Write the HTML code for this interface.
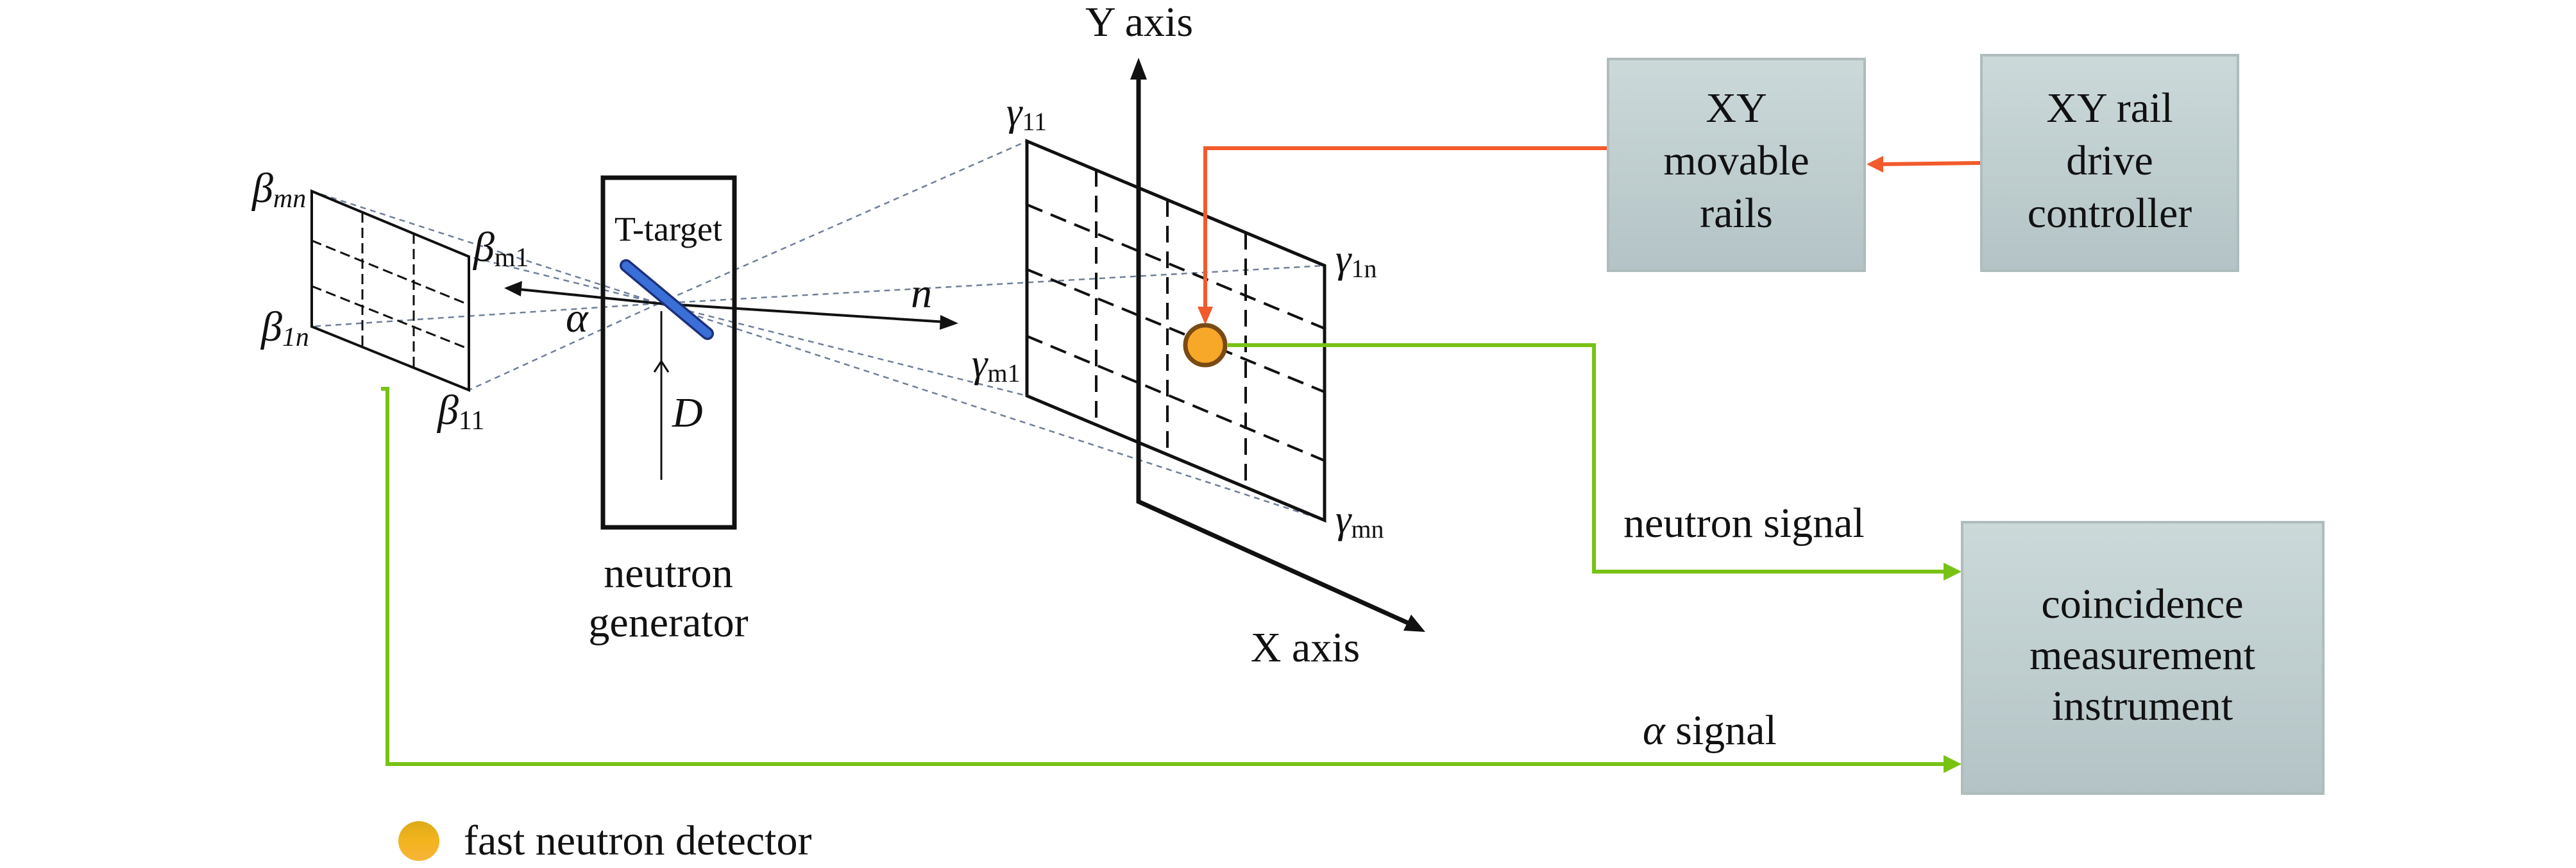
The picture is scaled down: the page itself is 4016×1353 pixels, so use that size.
<!DOCTYPE html>
<html><head><meta charset="utf-8"><style>
html,body{margin:0;padding:0;background:#fff;}
svg{display:block;}
text{font-family:"Liberation Serif",serif;fill:#111;}
</style></head><body>
<svg width="4016" height="1353" viewBox="0 0 4016 1353" xmlns="http://www.w3.org/2000/svg">
<defs>
<linearGradient id="bx" x1="0" y1="0" x2="0" y2="1">
<stop offset="0" stop-color="#cbd9d9"/><stop offset="1" stop-color="#b4c3c5"/>
</linearGradient>
<linearGradient id="leg" x1="0" y1="0" x2="0" y2="1">
<stop offset="0" stop-color="#dcaa18"/><stop offset="0.5" stop-color="#f4b41e"/><stop offset="1" stop-color="#f6b43a"/>
</linearGradient>
</defs>

<!-- dotted projection lines -->
<g stroke="#6f7f9a" stroke-width="2.5" stroke-dasharray="9,7" fill="none">
<line x1="1027" y1="473" x2="486" y2="298"/>
<line x1="1027" y1="473" x2="731" y2="400"/>
<line x1="1027" y1="473" x2="486" y2="509"/>
<line x1="1027" y1="473" x2="731" y2="608"/>
<line x1="1027" y1="473" x2="1601" y2="220"/>
<line x1="1027" y1="473" x2="2065" y2="414"/>
<line x1="1027" y1="473" x2="1601" y2="617"/>
<line x1="1027" y1="473" x2="2065" y2="811"/>
</g>

<!-- beta plane -->
<g stroke="#111" fill="none">
<polygon points="486,298 731,400 731,608 486,509" stroke-width="4"/>
<g stroke-width="3" stroke-dasharray="16,8">
<line x1="565" y1="331" x2="565" y2="541"/>
<line x1="645" y1="364" x2="645" y2="574"/>
<line x1="486" y1="375" x2="731" y2="475"/>
<line x1="486" y1="446" x2="731" y2="544"/>
</g>
</g>

<!-- gamma plane -->
<g stroke="#111" fill="none">
<polygon points="1601,220 2065,414 2065,811 1601,617" stroke-width="5"/>
<g stroke-width="4" stroke-dasharray="26,14">
<line x1="1709" y1="265" x2="1709" y2="662"/>
<line x1="1820" y1="312" x2="1820" y2="709"/>
<line x1="1942" y1="363" x2="1942" y2="760"/>
<line x1="1601" y1="319" x2="2065" y2="512"/>
<line x1="1601" y1="420" x2="2065" y2="611"/>
<line x1="1601" y1="524" x2="2065" y2="718"/>
</g>
</g>

<!-- axes -->
<g stroke="#111" stroke-width="7" fill="none">
<line x1="1775" y1="120" x2="1775" y2="784"/>
<line x1="1773" y1="781" x2="2195" y2="971"/>
</g>
<polygon points="1775,90 1762,124 1788,124" fill="#111"/>
<polygon points="2222,985 2188,983 2200,958" fill="#111"/>
<text x="1776" y="56" font-size="66" text-anchor="middle">Y axis</text>
<text x="2035" y="1031" font-size="66" text-anchor="middle">X axis</text>

<!-- neutron generator -->
<rect x="940" y="277" width="205" height="545" fill="none" stroke="#111" stroke-width="7"/>
<text x="1042" y="375" font-size="54" text-anchor="middle">T-target</text>
<line x1="1027" y1="473" x2="800" y2="450" stroke="#111" stroke-width="4"/>
<polygon points="786,449 814,438 812,462" fill="#111"/>
<line x1="1027" y1="473" x2="1475" y2="502" stroke="#111" stroke-width="4"/>
<polygon points="1494,504 1466,491 1465,514" fill="#111"/>
<line x1="976" y1="414" x2="1103" y2="520" stroke="#1c2f7a" stroke-width="20" stroke-linecap="round"/>
<line x1="976" y1="414" x2="1103" y2="520" stroke="#3a6fd8" stroke-width="13" stroke-linecap="round"/>
<line x1="1031" y1="485" x2="1031" y2="748" stroke="#111" stroke-width="3"/>
<polyline points="1020,580 1031,563 1042,580" fill="none" stroke="#111" stroke-width="3"/>
<text x="882" y="517" font-size="66" font-style="italic">α</text>
<text x="1048" y="665" font-size="66" font-style="italic">D</text>
<text x="1420" y="479" font-size="66" font-style="italic">n</text>
<text x="1042" y="915" font-size="66" text-anchor="middle">neutron</text>
<text x="1042" y="992" font-size="66" text-anchor="middle">generator</text>

<!-- beta labels -->
<text x="393" y="315" font-size="66" font-style="italic">β<tspan font-size="42" dy="8">mn</tspan></text>
<text x="738" y="407" font-size="66" font-style="italic">β<tspan font-size="42" font-style="normal" dy="8">m1</tspan></text>
<text x="407" y="531" font-size="66" font-style="italic">β<tspan font-size="42" dy="8">1</tspan><tspan font-size="42">n</tspan></text>
<text x="682" y="661" font-size="66" font-style="italic">β<tspan font-size="42" font-style="normal" dy="8">11</tspan></text>

<!-- gamma labels -->
<text x="1569" y="195" font-size="62" font-style="italic">γ<tspan font-size="40" font-style="normal" dy="8">11</tspan></text>
<text x="2082" y="424" font-size="62" font-style="italic">γ<tspan font-size="40" font-style="normal" dy="8">1n</tspan></text>
<text x="1515" y="587" font-size="62" font-style="italic">γ<tspan font-size="40" font-style="normal" dy="8">m1</tspan></text>
<text x="2082" y="830" font-size="62" font-style="italic">γ<tspan font-size="40" font-style="normal" dy="8">mn</tspan></text>

<!-- orange connectors -->
<g stroke="#f25a2c" stroke-width="6" fill="none">
<polyline points="2506,231 1879,231 1879,484"/>
<line x1="3088" y1="254" x2="2930" y2="256"/>
</g>
<polygon points="1879,506 1867,478 1891,478" fill="#f25a2c"/>
<polygon points="2910,256 2936,243 2936,269" fill="#f25a2c"/>

<!-- green connectors -->
<g stroke="#78c214" stroke-width="6" fill="none">
<polyline points="1914,538 2485,538 2485,891 3035,891"/>
<polyline points="594,606 604,606 604,1191 3035,1191"/>
</g>
<polygon points="3058,891 3030,877 3030,905" fill="#78c214"/>
<polygon points="3058,1191 3030,1177 3030,1205" fill="#78c214"/>

<!-- detector -->
<circle cx="1879" cy="538" r="31" fill="#f8a828" stroke="#7a4a14" stroke-width="7"/>

<text x="2531" y="837" font-size="66">neutron signal</text>
<text x="2561" y="1160" font-size="66"><tspan font-style="italic">α</tspan> signal</text>

<!-- boxes -->
<rect x="2507" y="92" width="400" height="330" fill="url(#bx)" stroke="#aebcbc" stroke-width="4"/>
<text x="2707" y="190" font-size="66" text-anchor="middle">XY</text>
<text x="2707" y="272" font-size="66" text-anchor="middle">movable</text>
<text x="2707" y="354" font-size="66" text-anchor="middle">rails</text>

<rect x="3089" y="86" width="400" height="336" fill="url(#bx)" stroke="#aebcbc" stroke-width="4"/>
<text x="3289" y="190" font-size="66" text-anchor="middle">XY rail</text>
<text x="3289" y="272" font-size="66" text-anchor="middle">drive</text>
<text x="3289" y="354" font-size="66" text-anchor="middle">controller</text>

<rect x="3059" y="814" width="563" height="423" fill="url(#bx)" stroke="#aebcbc" stroke-width="4"/>
<text x="3340" y="963" font-size="66" text-anchor="middle">coincidence</text>
<text x="3340" y="1043" font-size="66" text-anchor="middle">measurement</text>
<text x="3340" y="1122" font-size="66" text-anchor="middle">instrument</text>

<!-- legend -->
<ellipse cx="653" cy="1311" rx="32" ry="31" fill="url(#leg)"/>
<text x="723" y="1332" font-size="66">fast neutron detector</text>
</svg>
</body></html>
